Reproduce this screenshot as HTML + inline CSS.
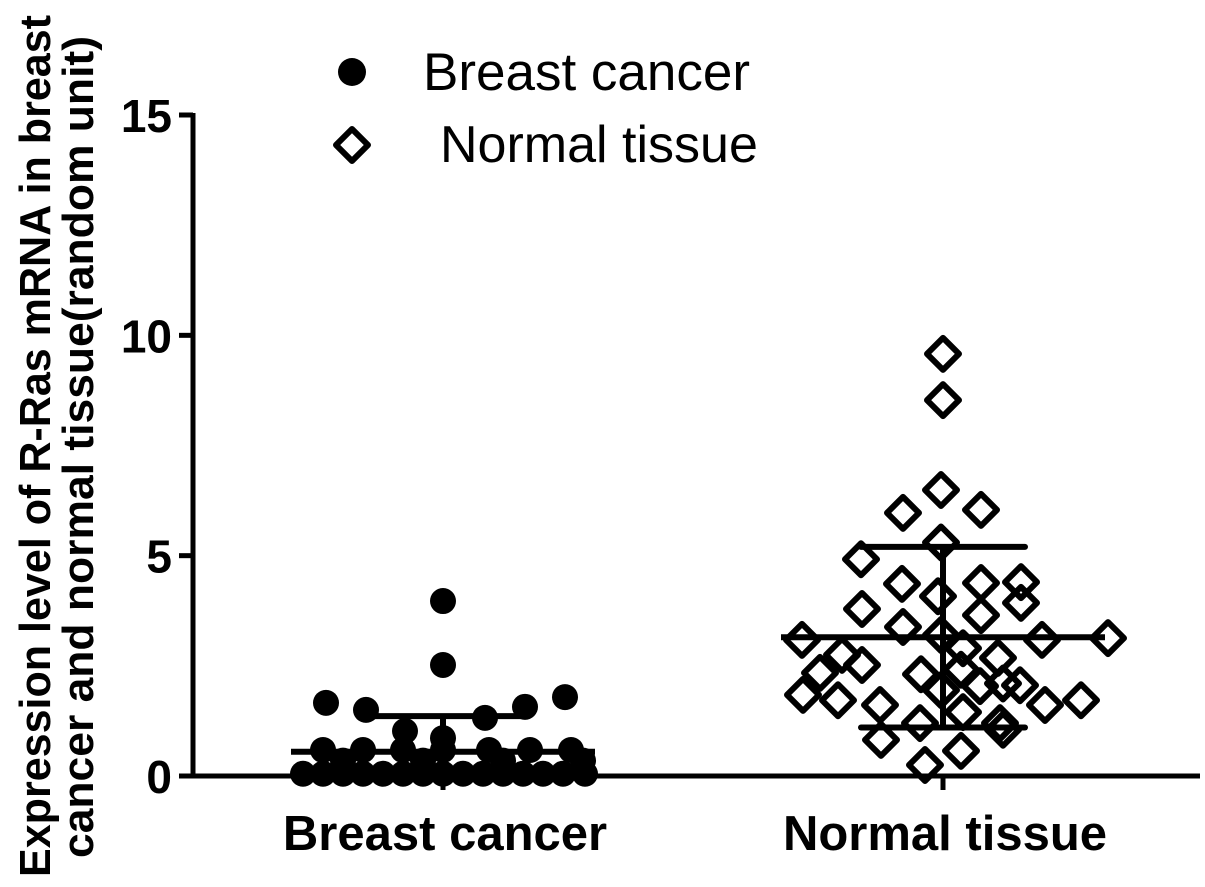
<!DOCTYPE html>
<html><head><meta charset="utf-8"><style>
html,body{margin:0;padding:0;background:#fff;}
svg{display:block;font-family:"Liberation Sans",Arial,sans-serif;}
</style></head><body>
<svg id="chart" width="1205" height="887"></svg>
<script>
const categories=["Breast cancer","Normal tissue"];
const yTicks=[0,5,10,15];
const cancerValues=[3.97,2.52,1.66,1.50,1.79,1.57,1.32,1.02,0.86,0.59,0.59,0.59,0.59,0.59,0.59,0.59,0.35,0.35,0.35,0.35,0.05,0.05,0.05,0.05,0.05,0.05,0.05,0.05,0.05,0.05,0.05,0.05,0.05,0.05,0.05];
const cancerJitter=[0,0,-1.17,-0.77,1.22,0.82,0.42,-0.38,0,-1.2,-0.8,-0.4,0,0.46,0.87,1.28,-1.0,-0.2,0.6,1.4,-1.4,-1.2,-1.0,-0.8,-0.6,-0.4,-0.2,0,0.2,0.4,0.6,0.8,1.0,1.2,1.42];
const normalValues=[9.58,8.53,6.49,5.97,6.04,5.3,4.92,4.36,4.08,4.38,4.40,3.79,3.65,3.93,3.38,3.2,3.09,3.13,3.09,2.75,2.68,2.34,2.52,2.31,2.41,2.1,1.84,1.72,1.72,1.61,2.06,1.61,2.04,0.82,1.2,1.2,0.57,0.25,1.45,1.95,2.9,1.05];
const normalJitter=[0,0,-0.02,-0.4,0.38,-0.02,-0.82,-0.41,-0.05,0.38,0.78,-0.81,0.38,0.78,-0.4,-0.02,-1.41,1.65,0.99,-1.01,0.55,-1.23,-0.81,-0.22,0.18,0.6,-1.4,-1.05,1.38,1.02,0.77,-0.63,0.37,-0.62,-0.23,0.57,0.18,-0.18,0.2,-0.02,0.2,0.6];
const means=[0.55,3.15];
const sdUpper=[1.36,5.2];
const sdLower=[0.0,1.1];
const svg=document.getElementById('chart');
const NS='http://www.w3.org/2000/svg';
const y0=776,yTop=115,xL=193,xR=1200;
const yScale=v=>y0-(v/15)*(y0-yTop);
const catX=i=>443+i*500;
const jitterPx=100;
function el(t,a,p){const e=document.createElementNS(NS,t);for(const k in a)e.setAttribute(k,a[k]);(p||svg).appendChild(e);return e;}
let e=el('line',{x1:xL,y1:yTop-2,x2:xL,y2:y0+2,stroke:'#000','stroke-width':5});


e=el('line',{x1:xL-2,y1:y0,x2:xR,y2:y0,stroke:'#000','stroke-width':5});


yTicks.forEach(t=>{
 const y=yScale(t);
 let l=el('line',{x1:xL-14,y1:y,x2:xL,y2:y,stroke:'#000','stroke-width':5});
 
 
 let tx=el('text',{x:172,y:y+17,'text-anchor':'end','font-size':46,'font-weight':'bold'});
 tx.textContent=t;
 
 
});
categories.forEach((c,i)=>{
 const x=catX(i);
 let l=el('line',{x1:x,y1:y0,x2:x,y2:y0+14,stroke:'#000','stroke-width':5});
 
 
 let tx=el('text',{x:x+2,y:850,'text-anchor':'middle','font-size':49,'font-weight':'bold'});
 tx.textContent=c;
 
 
});
const yt=el('text',{transform:'translate(0,0) rotate(-90)','text-anchor':'middle','font-size':44,'font-weight':'bold'});


const t1=el('tspan',{x:-446,y:50,textLength:862,lengthAdjust:'spacingAndGlyphs'},yt);t1.textContent='Expression level of R-Ras mRNA in breast';
const t2=el('tspan',{x:-447,y:93,textLength:822,lengthAdjust:'spacingAndGlyphs'},yt);t2.textContent='cancer and  normal tissue(random unit)';
cancerValues.forEach((v,i)=>{
 const c=el('circle',{cx:catX(0)+cancerJitter[i]*jitterPx,cy:yScale(v),r:13,fill:'#000'});
 
 
});
normalValues.forEach((v,i)=>{
 const cx=catX(1)+normalJitter[i]*jitterPx,cy=yScale(v),d=16;
 const p=el('polygon',{points:`${cx},${cy-d} ${cx+d},${cy} ${cx},${cy+d} ${cx-d},${cy}`,fill:'none',stroke:'#000','stroke-width':6,'stroke-linejoin':'round'});
 
 
});
const meanHalf=[152,162],sdHalf=[80,82];
means.forEach((m,i)=>{
 const x=catX(i);
 let l=el('line',{x1:x-meanHalf[i],y1:yScale(m),x2:x+meanHalf[i],y2:yScale(m),stroke:'#000','stroke-width':6});
 
 
 l=el('line',{x1:x,y1:yScale(sdUpper[i]),x2:x,y2:yScale(sdLower[i]),stroke:'#000','stroke-width':6});
 
 
 [sdUpper[i],sdLower[i]].forEach(s=>{
  if(s<=0)return;
  const c=el('line',{x1:x-sdHalf[i],y1:yScale(s),x2:x+sdHalf[i],y2:yScale(s),stroke:'#000','stroke-width':6,'stroke-linecap':'round'});
  
  
 });
});
let lc=el('circle',{cx:352,cy:72,r:14,fill:'#000'});


let lt=el('text',{x:423,y:90,'font-size':53});lt.textContent='Breast cancer';


let ld=el('polygon',{points:'352,129 368,145 352,161 336,145',fill:'none',stroke:'#000','stroke-width':6,'stroke-linejoin':'round'});


let lt2=el('text',{x:440,y:162,'font-size':52});lt2.textContent='Normal tissue';


</script>
</body></html>
